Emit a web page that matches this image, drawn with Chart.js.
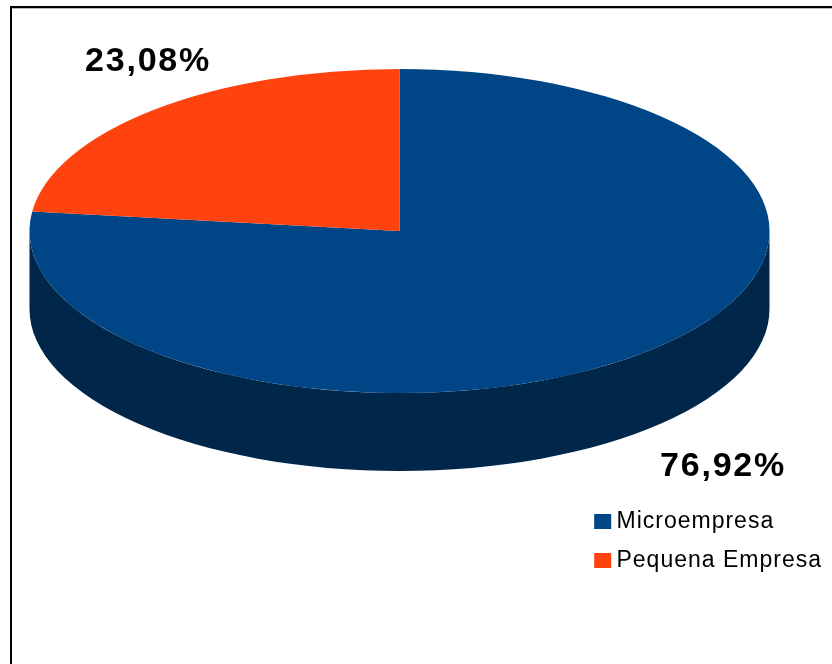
<!DOCTYPE html>
<html>
<head>
<meta charset="utf-8">
<style>
html,body{margin:0;padding:0;background:#fff;overflow:hidden}
#wrap{position:relative;width:832px;height:664px;background:#fff}
#frame{position:absolute;left:10px;top:6px;right:0;bottom:0;border-left:2px solid #000;border-top:2px solid #000;box-shadow:inset 0 1px 0 #bbb}
canvas{position:absolute;left:0;top:0}
</style>
<script src="https://cdn.jsdelivr.net/npm/chart.js@4"></script>
</head>
<body>
<div id="wrap"><div id="frame"></div><canvas id="c" width="832" height="664"></canvas></div>
<script>
const categories = ['Microempresa', 'Pequena Empresa'];
const values = [76.92, 23.08];
const valueLabels = ['76,92%', '23,08%'];
const topColors = ['#004586', '#ff420e'];
const sideColors = ['#00264a', '#8c2408'];

// Geometry of the tilted pie on the page
const pie3d = { cx: 399.5, cy: 231, rx: 370, ry: 162, depth: 78 };
const labelSpots = [{ x: 660, y: 476 }, { x: 85, y: 71 }];
const labelFont = 'bold 34px "Liberation Sans"';
const labelSpacing = '1.8px';
const legendSpacing = '1px';

function tilt(ctx, el) {
  const R = el.outerRadius;
  ctx.translate(pie3d.cx, pie3d.cy);
  ctx.scale(pie3d.rx / R, pie3d.ry / R);
  ctx.translate(-el.x, -el.y);
}

const pie3dPlugin = {
  id: 'pie3d',
  beforeLayout(chart) { chart.ctx.letterSpacing = legendSpacing; },
  beforeDraw(chart) { chart.ctx.letterSpacing = legendSpacing; },
  beforeDatasetsDraw(chart) {
    const ctx = chart.ctx;
    const arcs = chart.getDatasetMeta(0).data;
    ctx.save();
    tilt(ctx, arcs[0]);
    const R = arcs[0].outerRadius;
    const dy = pie3d.depth * R / pie3d.ry;
    arcs.forEach((el, i) => {
      const a = Math.max(el.startAngle, 0);
      const b = Math.min(el.endAngle, Math.PI);
      if (b <= a) return;
      ctx.beginPath();
      ctx.arc(el.x, el.y, R, a, b);
      ctx.arc(el.x, el.y + dy, R, b, a, true);
      ctx.closePath();
      ctx.fillStyle = sideColors[i];
      ctx.fill();
    });
  },
  afterDatasetsDraw(chart) {
    const ctx = chart.ctx;
    ctx.restore();
    ctx.save();
    ctx.letterSpacing = labelSpacing;
    ctx.font = labelFont;
    ctx.fillStyle = '#000';
    ctx.textAlign = 'left';
    ctx.textBaseline = 'alphabetic';
    valueLabels.forEach((t, i) => ctx.fillText(t, labelSpots[i].x, labelSpots[i].y));
    ctx.restore();
  }
};

new Chart(document.getElementById('c'), {
  type: 'pie',
  data: {
    labels: categories,
    datasets: [{ data: values, backgroundColor: topColors, borderWidth: 0 }]
  },
  options: {
    responsive: false,
    animation: false,
    events: [],
    layout: { padding: { bottom: 76, right: 0 } },
    plugins: {
      tooltip: { enabled: false },
      legend: {
        position: 'right',
        align: 'end',
        labels: {
          font: { family: '"Liberation Sans"', size: 23 },
          color: '#000',
          boxWidth: 4.6,
          boxHeight: 2.6,
          padding: 16,
          generateLabels: () => categories.map((t, i) => ({
            text: t,
            fillStyle: topColors[i],
            strokeStyle: topColors[i],
            lineWidth: 12.4,
            hidden: false,
            index: i
          }))
        }
      }
    }
  },
  plugins: [pie3dPlugin]
});
</script>
</body>
</html>
